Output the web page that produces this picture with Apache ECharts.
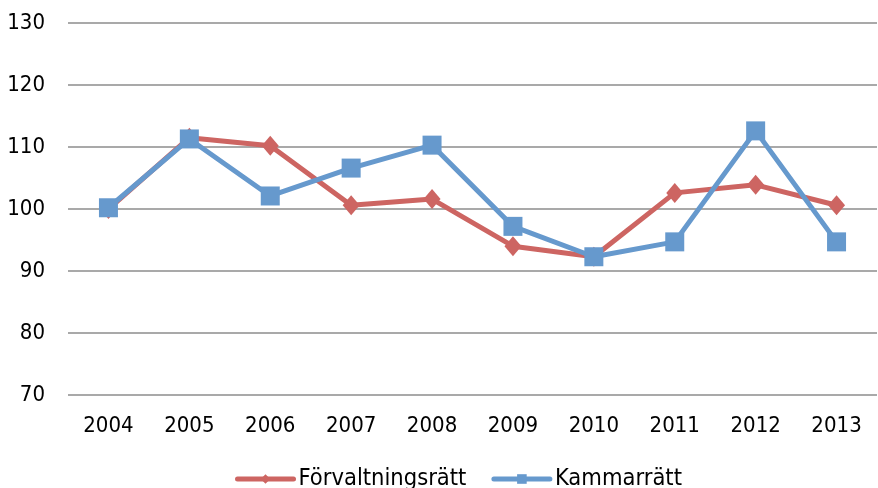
<!DOCTYPE html>
<html>
<head>
<meta charset="utf-8">
<script src="https://cdn.jsdelivr.net/npm/echarts@6/dist/echarts.min.js"></script>
<style>
html,body{margin:0;padding:0;background:#fff;}
#c{width:878px;height:488px;}
</style>
</head>
<body>
<div id="c"></div>
<script>
var categories = ['2004','2005','2006','2007','2008','2009','2010','2011','2012','2013'];
var forvaltningsratt = [100.0, 111.5, 110.2, 100.6, 101.6, 94.0, 92.3, 102.6, 103.9, 100.6];
var kammarratt = [100.2, 111.3, 102.1, 106.6, 110.3, 97.2, 92.3, 94.7, 112.6, 94.7];
var yTicks = [70, 80, 90, 100, 110, 120, 130];
var seriesNames = ['Förvaltningsrätt', 'Kammarrätt'];

var FONT = 'DejaVu Sans Condensed, DejaVu Sans, sans-serif';
var RED = '#CD6562', BLUE = '#6699CD';
var chart = echarts.init(document.getElementById('c'), null, {renderer:'canvas'});
chart.setOption({
  animation: false,
  backgroundColor: '#ffffff',
  grid: {left: 68, right: 1, top: 23, bottom: 93, containLabel: false},
  legend: {
    data: seriesNames,
    left: 235, top: 467, padding: 0,
    itemWidth: 56, itemHeight: 12, itemGap: 25,
    lineStyle: {width: 5, cap: 'round'},
    textStyle: {fontFamily: FONT, fontSize: 23.5, color: '#000'}
  },
  xAxis: {
    type: 'category',
    data: categories,
    boundaryGap: true,
    axisLine: {show: false},
    axisTick: {show: false},
    axisLabel: {fontFamily: FONT, fontSize: 22, color: '#000', margin: 20}
  },
  yAxis: {
    type: 'value',
    min: yTicks[0], max: yTicks[yTicks.length-1], interval: 10,
    axisLine: {show: false},
    axisTick: {show: false},
    axisLabel: {fontFamily: FONT, fontSize: 22, color: '#000', margin: 23},
    splitLine: {lineStyle: {color: '#8c8c8c', width: 1.5}}
  },
  series: [
    {
      name: seriesNames[0], type: 'line', data: forvaltningsratt,
      symbol: 'diamond', symbolSize: [17, 20],
      lineStyle: {color: RED, width: 5},
      itemStyle: {color: RED},
      z: 2
    },
    {
      name: seriesNames[1], type: 'line', data: kammarratt,
      symbol: 'rect', symbolSize: 19,
      lineStyle: {color: BLUE, width: 5},
      itemStyle: {color: BLUE},
      z: 3
    }
  ]
});
</script>
</body>
</html>
